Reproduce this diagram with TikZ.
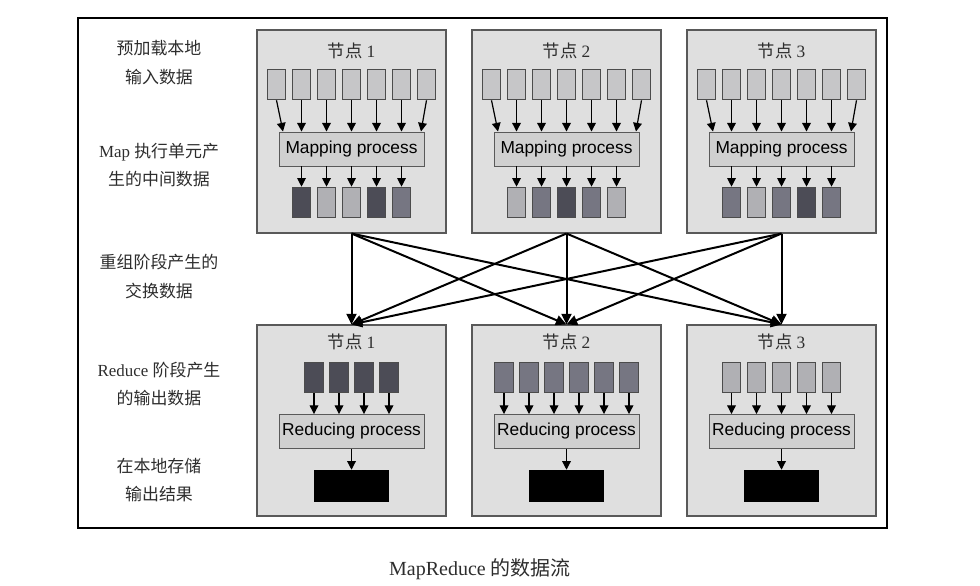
\documentclass[tikz,border=0pt]{standalone}
\usepackage{fontspec}
\setmainfont{Liberation Serif}
\newfontfamily\cjk{Noto Sans CJK SC}
\newfontfamily\procfont{Liberation Sans}
\usetikzlibrary{arrows.meta,calc,positioning}
\definecolor{nodegray}{RGB}{223,223,223}
\definecolor{procgray}{RGB}{208,208,208}
\definecolor{chunkpale}{RGB}{198,198,200}
\definecolor{clight}{RGB}{176,176,180}
\definecolor{cmid}{RGB}{118,118,130}
\definecolor{cdark}{RGB}{76,76,86}
\definecolor{textgray}{RGB}{45,45,45}

\begin{document}
\begin{tikzpicture}[x=0.75pt,y=-0.75pt,line join=miter,
 >={Triangle[length=6.5pt,width=6.5pt]},
 nodebox/.style={draw=black!65,fill=nodegray,line width=0.8pt,
  minimum width=141.75pt,inner sep=0pt},
 chunk/.style={draw=black!70,line width=0.7pt,minimum width=14pt,
  minimum height=23pt,inner sep=0pt},
 procbox/.style={draw=black!65,fill=procgray,line width=0.7pt,
  minimum width=108.75pt,minimum height=25.5pt,inner sep=0pt,
  font=\procfont\fontsize{13}{15}\selectfont},
 resultbox/.style={fill=black,minimum width=56pt,minimum height=24pt,
  inner sep=0pt},
 nodetitle/.style={text=textgray,font=\fontsize{13}{15}\selectfont},
 steplabel/.style={text=textgray,align=center,
  font=\fontsize{12.7}{21.5}\selectfont},
 flow/.style={->,line width=0.9pt},
 shuffle/.style={-{Triangle[length=8pt,width=7.5pt]},line width=1.5pt}]
 \useasboundingbox (0,0) rectangle (980,585);
 \draw[line width=0.9pt] (78,18) rectangle (887,528);

 % map side
 \foreach \i/\cx/\cols in {1/351.5/{cdark,clight,clight,cdark,cmid},
   2/566.5/{clight,cmid,cdark,cmid,clight},
   3/781.5/{cmid,clight,cmid,cdark,cmid}}{
  \node[nodebox,minimum height=152.25pt] (map\i) at (\cx,131.5) {};
  \node[nodetitle] (maptitle\i) at (\cx,51) {{\cjk 节点} \i};
  \node[procbox] (mp\i) at (\cx,149) {Mapping process};
  \foreach \k in {1,...,7}{
   \pgfmathsetmacro\dx{(\k==1)*6.5-(\k==7)*5.5}
   \node[chunk,fill=chunkpale] (in\i-\k) at (\cx+\k*25-100,84.5) {};
   \draw[flow] (in\i-\k.south) -- ($(in\i-\k.south |- mp\i.north)+(\dx,0)$);
  }
  \foreach \c [count=\k] in \cols{
   \node[chunk,fill=\c] (out\i-\k) at (\cx+\k*25-75,202.5) {};
   \draw[flow] (out\i-\k.north |- mp\i.south) -- (out\i-\k.north);
  }
 }

 % reduce side
 \foreach \i/\cx/\n/\col in {1/351.5/4/cdark,2/566.5/6/cmid,3/781.5/5/clight}{
  \node[nodebox,minimum height=143.25pt] (red\i) at (\cx,420.5) {};
  \node[nodetitle] (redtitle\i) at (\cx,342) {{\cjk 节点} \i};
  \node[procbox] (rp\i) at (\cx,431.5) {Reducing process};
  \foreach \k in {1,...,\n}{
   \node[chunk,fill=\col] (rin\i-\k) at (\cx+\k*25-12.5*\n-12.5,377.5) {};
   \draw[flow] (rin\i-\k.south) -- (rin\i-\k.south |- rp\i.north);
  }
  \node[resultbox] (res\i) at (\cx,486) {};
  \draw[flow] (rp\i.south) -- (res\i.north);
 }

 % shuffle
 \foreach \a in {1,2,3}
  \foreach \b in {1,2,3}
   \draw[shuffle] (map\a.south) -- (red\b.north);

 % stage labels
 \node[steplabel] (lblload) at (159,62.5) {{\cjk 预加载本地}\\{\cjk 输入数据}};
 \node[steplabel] (lblmap) at (159,165) {Map {\cjk 执行单元产}\\{\cjk 生的中间数据}};
 \node[steplabel] (lblshuf) at (159,276.5) {{\cjk 重组阶段产生的}\\{\cjk 交换数据}};
 \node[steplabel] (lblred) at (159,384) {Reduce {\cjk 阶段产生}\\{\cjk 的输出数据}};
 \node[steplabel] (lblstore) at (159,480) {{\cjk 在本地存储}\\{\cjk 输出结果}};

 \node[text=textgray,font=\fontsize{15}{18}\selectfont] (caption) at (480,569)
  {MapReduce {\cjk 的数据流}};
\end{tikzpicture}
\end{document}
